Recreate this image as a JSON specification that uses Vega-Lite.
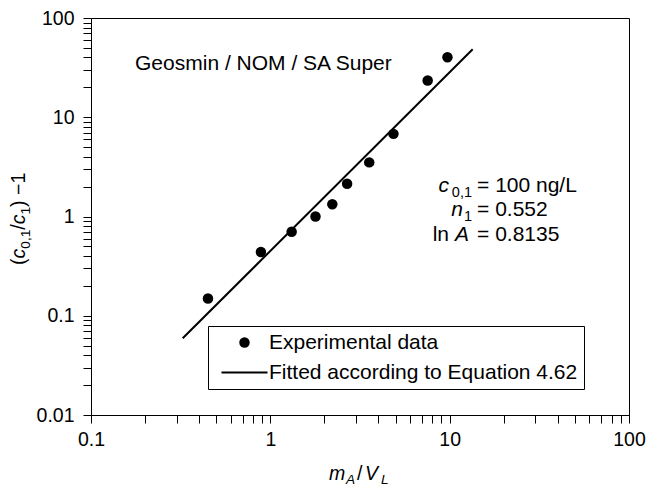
{
  "$schema": "https://vega.github.io/schema/vega-lite/v6.json",
  "autosize": {"type": "none"},
  "padding": {"left": 91, "top": 18, "right": 17, "bottom": 71},
  "width": 538,
  "height": 397,
  "config": {
    "font": "Liberation Sans",
    "view": {"stroke": "black", "strokeWidth": 1},
    "axis": {"grid": false, "domainColor": "black", "tickColor": "black", "labelColor": "black", "title": null}
  },
  "resolve": {"axis": {"x": "independent", "y": "independent"}},
  "layer": [
    {
      "data": {"values": [{"x": 0.3246, "y": 0.0593}, {"x": 13.44, "y": 48.4}]},
      "mark": {"type": "line", "color": "black", "strokeWidth": 2},
      "encoding": {
        "x": {"field": "x", "type": "quantitative", "scale": {"type": "log", "domain": [0.1, 100], "nice": false},
          "axis": {"orient": "bottom", "values": [0.1,0.2,0.3,0.4,0.5,0.6,0.7,0.8,0.9,1,2,3,4,5,6,7,8,9,10,20,30,40,50,60,70,80,90,100],
            "labelExpr": "abs(log(datum.value)/LN10 - round(log(datum.value)/LN10)) < 0.001 ? datum.label : ''",
            "format": "~g", "tickSize": 8,
            "encode": {"ticks": {"update": {"y2": {"signal": "abs(log(datum.value)/LN10 - round(log(datum.value)/LN10)) < 0.001 ? 8 : 4"}}}},
            "labelFontSize": 19.5, "labelPadding": 7, "labelFlush": false, "labelOverlap": false, "title": null}},
        "y": {"field": "y", "type": "quantitative", "scale": {"type": "log", "domain": [0.01, 100], "nice": false},
          "axis": {"orient": "left", "values": [0.01,0.02,0.03,0.04,0.05,0.06,0.07,0.08,0.09,0.1,0.2,0.3,0.4,0.5,0.6,0.7,0.8,0.9,1,2,3,4,5,6,7,8,9,10,20,30,40,50,60,70,80,90,100],
            "labelExpr": "abs(log(datum.value)/LN10 - round(log(datum.value)/LN10)) < 0.001 ? datum.label : ''",
            "format": "~g", "tickSize": 8,
            "encode": {"ticks": {"update": {"x2": {"signal": "abs(log(datum.value)/LN10 - round(log(datum.value)/LN10)) < 0.001 ? -8 : -4"}}}},
            "labelFontSize": 19.5, "labelPadding": 9, "labelFlush": false, "labelOverlap": false, "title": null}}
      }
    },
    {
      "data": {"values": [
        {"x": 0.449, "y": 0.149, "series": "Experimental data"},
        {"x": 0.886, "y": 0.439, "series": "Experimental data"},
        {"x": 1.315, "y": 0.702, "series": "Experimental data"},
        {"x": 1.786, "y": 1.0, "series": "Experimental data"},
        {"x": 2.216, "y": 1.33, "series": "Experimental data"},
        {"x": 2.68, "y": 2.14, "series": "Experimental data"},
        {"x": 3.56, "y": 3.51, "series": "Experimental data"},
        {"x": 4.86, "y": 6.8, "series": "Experimental data"},
        {"x": 7.54, "y": 23.5, "series": "Experimental data"},
        {"x": 9.72, "y": 40.2, "series": "Experimental data"}
      ]},
      "mark": {"type": "point", "filled": true, "fill": "black", "strokeWidth": 0, "size": 110, "opacity": 1},
      "encoding": {
        "x": {"field": "x", "type": "quantitative", "scale": {"type": "log", "domain": [0.1, 100], "nice": false}, "axis": null},
        "y": {"field": "y", "type": "quantitative", "scale": {"type": "log", "domain": [0.01, 100], "nice": false}, "axis": null},
        "shape": {"field": "series", "type": "nominal",
          "scale": {"domain": ["Experimental data", "Fitted according to Equation 4.62"], "range": ["circle", "M-4.39,-0.19H4.39V0.19H-4.39Z"]},
          "legend": {"title": null, "orient": "none", "legendX": 117, "legendY": 308, "strokeColor": "black", "fillColor": "white", "padding": 6,
            "labelFontSize": 21, "labelColor": "black", "labelOffset": 14, "labelLimit": 400, "rowPadding": 8,
            "symbolSize": 110, "symbolOffset": 20, "symbolFillColor": "black", "symbolStrokeWidth": 0, "symbolOpacity": 1}}
      }
    },
    {
      "data": {"values": [{"label": "Geosmin / NOM / SA Super"}]},
      "mark": {"type": "text", "align": "left", "baseline": "alphabetic", "fontSize": 21, "color": "black"},
      "encoding": {"x": {"datum": 0.176, "type": "quantitative", "axis": null}, "y": {"datum": 29.93, "type": "quantitative", "axis": null}, "text": {"field": "label"}}
    },
    {
      "data": {"values": [{"label": "c"}]},
      "mark": {"type": "text", "align": "right", "baseline": "alphabetic", "fontSize": 21, "fontStyle": "italic", "color": "black"},
      "encoding": {"x": {"datum": 9.92, "type": "quantitative", "axis": null}, "y": {"datum": 1.766, "type": "quantitative", "axis": null}, "text": {"field": "label"}}
    },
    {
      "data": {"values": [{"label": "0,1"}]},
      "mark": {"type": "text", "align": "right", "baseline": "alphabetic", "fontSize": 14.5, "color": "black"},
      "encoding": {"x": {"datum": 13.32, "type": "quantitative", "axis": null}, "y": {"datum": 1.572, "type": "quantitative", "axis": null}, "text": {"field": "label"}}
    },
    {
      "data": {"values": [{"label": "= 100 ng/L"}]},
      "mark": {"type": "text", "align": "left", "baseline": "alphabetic", "fontSize": 21, "color": "black"},
      "encoding": {"x": {"datum": 14.21, "type": "quantitative", "axis": null}, "y": {"datum": 1.766, "type": "quantitative", "axis": null}, "text": {"field": "label"}}
    },
    {
      "data": {"values": [{"label": "n"}]},
      "mark": {"type": "text", "align": "right", "baseline": "alphabetic", "fontSize": 21, "fontStyle": "italic", "color": "black"},
      "encoding": {"x": {"datum": 11.87, "type": "quantitative", "axis": null}, "y": {"datum": 1.0116, "type": "quantitative", "axis": null}, "text": {"field": "label"}}
    },
    {
      "data": {"values": [{"label": "1"}]},
      "mark": {"type": "text", "align": "right", "baseline": "alphabetic", "fontSize": 14.5, "color": "black"},
      "encoding": {"x": {"datum": 13.32, "type": "quantitative", "axis": null}, "y": {"datum": 0.9011, "type": "quantitative", "axis": null}, "text": {"field": "label"}}
    },
    {
      "data": {"values": [{"label": "= 0.552"}]},
      "mark": {"type": "text", "align": "left", "baseline": "alphabetic", "fontSize": 21, "color": "black"},
      "encoding": {"x": {"datum": 14.21, "type": "quantitative", "axis": null}, "y": {"datum": 1.0116, "type": "quantitative", "axis": null}, "text": {"field": "label"}}
    },
    {
      "data": {"values": [{"label": "ln"}]},
      "mark": {"type": "text", "align": "right", "baseline": "alphabetic", "fontSize": 21, "color": "black"},
      "encoding": {"x": {"datum": 9.92, "type": "quantitative", "axis": null}, "y": {"datum": 0.5665, "type": "quantitative", "axis": null}, "text": {"field": "label"}}
    },
    {
      "data": {"values": [{"label": "A"}]},
      "mark": {"type": "text", "align": "right", "baseline": "alphabetic", "fontSize": 21, "fontStyle": "italic", "color": "black"},
      "encoding": {"x": {"datum": 12.82, "type": "quantitative", "axis": null}, "y": {"datum": 0.5665, "type": "quantitative", "axis": null}, "text": {"field": "label"}}
    },
    {
      "data": {"values": [{"label": "= 0.8135"}]},
      "mark": {"type": "text", "align": "left", "baseline": "alphabetic", "fontSize": 21, "color": "black"},
      "encoding": {"x": {"datum": 14.21, "type": "quantitative", "axis": null}, "y": {"datum": 0.5665, "type": "quantitative", "axis": null}, "text": {"field": "label"}}
    },
    {
      "data": {"values": [{"label": "m"}]},
      "mark": {"type": "text", "align": "left", "baseline": "alphabetic", "fontSize": 19.5, "fontStyle": "italic", "color": "black"},
      "encoding": {"x": {"datum": 2.124, "type": "quantitative", "axis": null}, "y": {"datum": 0.002213, "type": "quantitative", "axis": null}, "text": {"field": "label"}}
    },
    {
      "data": {"values": [{"label": "A"}]},
      "mark": {"type": "text", "align": "left", "baseline": "alphabetic", "fontSize": 13.65, "fontStyle": "italic", "color": "black"},
      "encoding": {"x": {"datum": 2.642, "type": "quantitative", "axis": null}, "y": {"datum": 0.002018, "type": "quantitative", "axis": null}, "text": {"field": "label"}}
    },
    {
      "data": {"values": [{"label": "/"}]},
      "mark": {"type": "text", "align": "left", "baseline": "alphabetic", "fontSize": 19.5, "color": "black"},
      "encoding": {"x": {"datum": 3.043, "type": "quantitative", "axis": null}, "y": {"datum": 0.002213, "type": "quantitative", "axis": null}, "text": {"field": "label"}}
    },
    {
      "data": {"values": [{"label": "V"}]},
      "mark": {"type": "text", "align": "left", "baseline": "alphabetic", "fontSize": 19.5, "fontStyle": "italic", "color": "black"},
      "encoding": {"x": {"datum": 3.373, "type": "quantitative", "axis": null}, "y": {"datum": 0.002213, "type": "quantitative", "axis": null}, "text": {"field": "label"}}
    },
    {
      "data": {"values": [{"label": "L"}]},
      "mark": {"type": "text", "align": "left", "baseline": "alphabetic", "fontSize": 13.65, "fontStyle": "italic", "color": "black"},
      "encoding": {"x": {"datum": 4.141, "type": "quantitative", "axis": null}, "y": {"datum": 0.002018, "type": "quantitative", "axis": null}, "text": {"field": "label"}}
    },
    {
      "data": {"values": [{"label": "("}]},
      "mark": {"type": "text", "align": "left", "baseline": "alphabetic", "angle": 270, "fontSize": 19.5, "color": "black"},
      "encoding": {"x": {"datum": 0.0428, "type": "quantitative", "axis": null}, "y": {"datum": 0.3245, "type": "quantitative", "axis": null}, "text": {"field": "label"}}
    },
    {
      "data": {"values": [{"label": "c"}]},
      "mark": {"type": "text", "align": "left", "baseline": "alphabetic", "angle": 270, "fontSize": 19.5, "fontStyle": "italic", "color": "black"},
      "encoding": {"x": {"datum": 0.0428, "type": "quantitative", "axis": null}, "y": {"datum": 0.3774, "type": "quantitative", "axis": null}, "text": {"field": "label"}}
    },
    {
      "data": {"values": [{"label": "0,1"}]},
      "mark": {"type": "text", "align": "left", "baseline": "alphabetic", "angle": 270, "fontSize": 13.65, "color": "black"},
      "encoding": {"x": {"datum": 0.0457, "type": "quantitative", "axis": null}, "y": {"datum": 0.4738, "type": "quantitative", "axis": null}, "text": {"field": "label"}}
    },
    {
      "data": {"values": [{"label": "/"}]},
      "mark": {"type": "text", "align": "left", "baseline": "alphabetic", "angle": 270, "fontSize": 19.5, "color": "black"},
      "encoding": {"x": {"datum": 0.0428, "type": "quantitative", "axis": null}, "y": {"datum": 0.7362, "type": "quantitative", "axis": null}, "text": {"field": "label"}}
    },
    {
      "data": {"values": [{"label": "c"}]},
      "mark": {"type": "text", "align": "left", "baseline": "alphabetic", "angle": 270, "fontSize": 19.5, "fontStyle": "italic", "color": "black"},
      "encoding": {"x": {"datum": 0.0428, "type": "quantitative", "axis": null}, "y": {"datum": 0.8344, "type": "quantitative", "axis": null}, "text": {"field": "label"}}
    },
    {
      "data": {"values": [{"label": "1"}]},
      "mark": {"type": "text", "align": "left", "baseline": "alphabetic", "angle": 270, "fontSize": 13.65, "color": "black"},
      "encoding": {"x": {"datum": 0.0457, "type": "quantitative", "axis": null}, "y": {"datum": 1.0476, "type": "quantitative", "axis": null}, "text": {"field": "label"}}
    },
    {
      "data": {"values": [{"label": ") −1"}]},
      "mark": {"type": "text", "align": "left", "baseline": "alphabetic", "angle": 270, "fontSize": 19.5, "color": "black"},
      "encoding": {"x": {"datum": 0.0428, "type": "quantitative", "axis": null}, "y": {"datum": 1.249, "type": "quantitative", "axis": null}, "text": {"field": "label"}}
    }
  ]
}
